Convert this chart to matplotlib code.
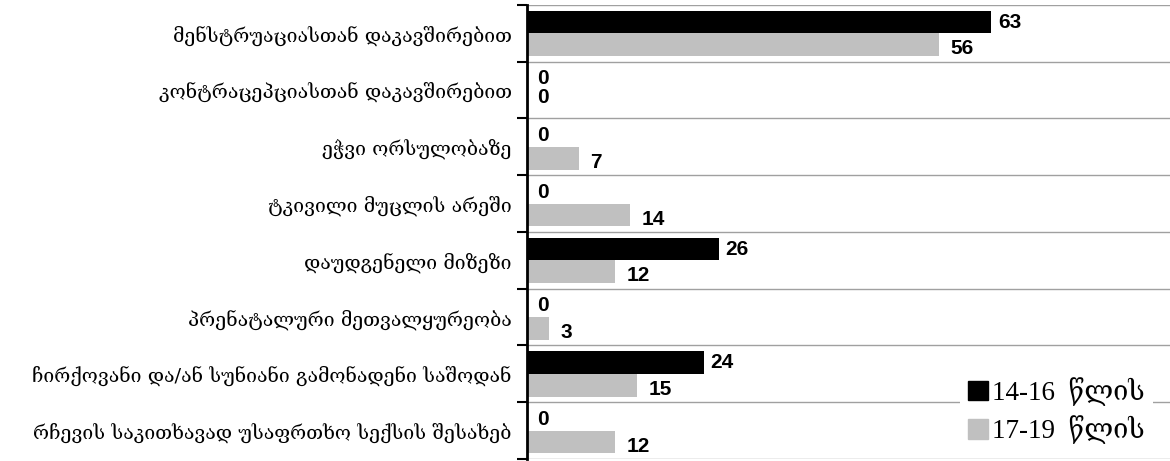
import matplotlib
matplotlib.use('Agg')
import matplotlib.pyplot as plt
from matplotlib.patches import Patch
import numpy as np

# categories, top to bottom
categories = [
    'მენსტრუაციასთან დაკავშირებით',
    'კონტრაცეპციასთან დაკავშირებით',
    'ეჭვი ორსულობაზე',
    'ტკივილი მუცლის არეში',
    'დაუდგენელი მიზეზი',
    'პრენატალური მეთვალყურეობა',
    'ჩირქოვანი და/ან სუნიანი გამონადენი საშოდან',
    'რჩევის საკითხავად უსაფრთხო სექსის შესახებ',
]
age_14_16 = [63, 0, 0, 0, 26, 0, 24, 0]
age_17_19 = [56, 0, 7, 14, 12, 3, 15, 12]
series_names = ['14-16  წლის', '17-19  წლის']

fig = plt.figure(figsize=(11.7, 4.61), dpi=100)
ax = fig.add_axes([527 / 1170, 2 / 461, 1 - 527 / 1170, 454 / 461])

y = np.arange(len(categories))
h = 0.4
ax.barh(y - h / 2, age_14_16, height=h, color='black', zorder=3)
ax.barh(y + h / 2, age_17_19, height=h, color='#c0c0c0', zorder=3)

ax.set_xlim(0, 87.3)
ax.set_ylim(len(categories) - 0.5, -0.5)

# value labels
lab_font = dict(family='Liberation Sans', fontweight='bold', fontsize=15, color='black')
for i, (a, b) in enumerate(zip(age_14_16, age_17_19)):
    ax.annotate(str(a), (a, i - h / 2), xytext=(5 if a else 7, 0), textcoords='offset points',
                ha='left', va='center', **lab_font)
    ax.annotate(str(b), (b, i + h / 2), xytext=(8 if b else 7, -3 if b else 3),
                textcoords='offset points', ha='left', va='center', **lab_font)

# y axis: labels at centres, ticks at boundaries
ax.set_yticks(y)
ax.set_yticklabels(categories, family=['DejaVu Serif', 'DejaVu Sans'], fontsize=14)
ax.tick_params(axis='y', which='major', length=0, pad=11)
ax.set_yticks(np.arange(len(categories) + 1) - 0.5, minor=True)
ax.tick_params(axis='y', which='minor', length=7, width=1.5, direction='out')
ax.grid(axis='y', which='minor', color='#a0a0a0', lw=1, zorder=0)
ax.set_xticks([])

for s in ['top', 'right', 'bottom']:
    ax.spines[s].set_visible(False)
ax.spines['left'].set_linewidth(2)
ax.spines['left'].set_zorder(4)

handles = [Patch(color='black'), Patch(color='#c0c0c0')]
leg = ax.legend(handles, series_names, loc='lower right', bbox_to_anchor=(0.995, -0.015),
                prop={'family': ['Liberation Serif', 'DejaVu Serif'], 'size': 19.5},
                handlelength=0.75, handleheight=0.75, handletextpad=0.15,
                labelspacing=0.35, borderpad=0.3, frameon=True, fancybox=False)
leg.get_frame().set_facecolor('white')
leg.get_frame().set_edgecolor('none')
leg.get_frame().set_alpha(1)
leg.set_zorder(5)

fig.savefig('out.png', dpi=100)
